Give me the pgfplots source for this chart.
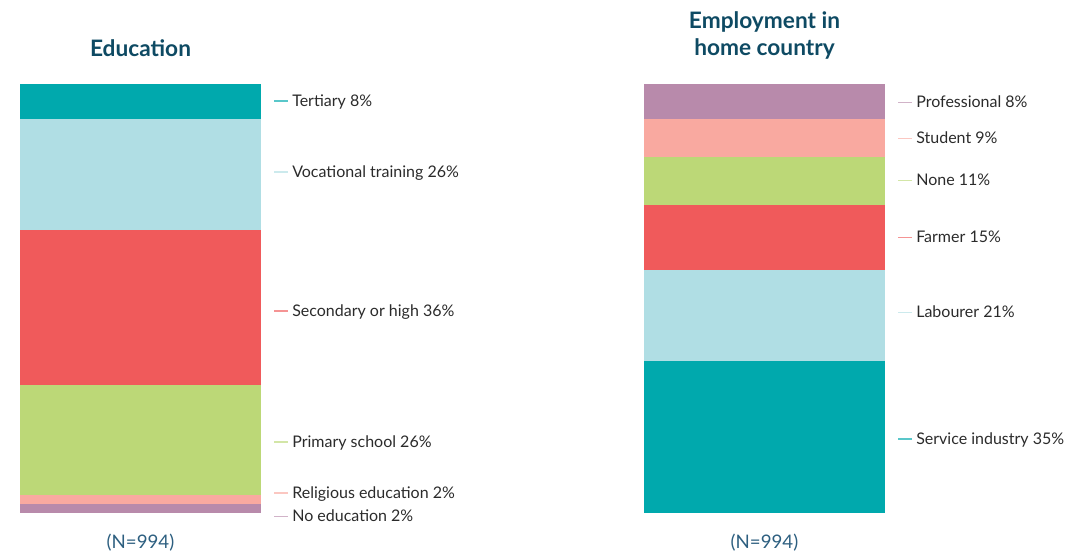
\documentclass[border=0pt]{standalone}
\usepackage{pgfplots}
\pgfplotsset{compat=1.18}
\usepackage{fontspec}
\setmainfont{Lato}
\definecolor{cteal}{HTML}{00A9AD}
\definecolor{clblue}{HTML}{B0DEE4}
\definecolor{cred}{HTML}{F05A5B}
\definecolor{cgreen}{HTML}{BCD877}
\definecolor{csalmon}{HTML}{F9A9A0}
\definecolor{cpurple}{HTML}{B88AAB}
\definecolor{textgray}{HTML}{2B2B2B}
\definecolor{titleblue}{HTML}{0E4A63}
\definecolor{nblue}{HTML}{2D5F80}
\newcommand{\lbl}[3]{\node[anchor=west,inner sep=0pt,font=\fontsize{12}{14}\selectfont,text=textgray] at (axis cs:0.554,#1) {\textcolor{#2!65}{\rule[0.55ex]{10.5pt}{1pt}}\hspace{3pt}#3};}
\pgfplotsset{barax/.style={
  scale only axis, width=180.75pt, height=321.75pt,
  anchor=south west, hide axis, clip=false,
  ybar stacked, bar width=1,
  xmin=-0.5, xmax=0.5, ymin=0, ymax=100,
}}
\begin{document}
\begin{tikzpicture}
\useasboundingbox (0,0) rectangle (814.5pt,415.5pt);
% Education
\begin{axis}[barax, at={(15pt,30.75pt)}]
\addplot[fill=cpurple, draw=none] coordinates {(0,2.1)};
\addplot[fill=csalmon, draw=none] coordinates {(0,2.1)};
\addplot[fill=cgreen, draw=none] coordinates {(0,25.6)};
\addplot[fill=cred, draw=none] coordinates {(0,36.1)};
\addplot[fill=clblue, draw=none] coordinates {(0,25.9)};
\addplot[fill=cteal, draw=none] coordinates {(0,8.2)};
\lbl{95.9}{cteal}{Tertiary 8\%}
\lbl{79.3}{clblue}{Vocational training 26\%}
\lbl{46.9}{cred}{Secondary or high 36\%}
\lbl{16.4}{cgreen}{Primary school 26\%}
\lbl{4.5}{csalmon}{Religious education 2\%}
\lbl{-0.6}{cpurple}{No education 2\%}
\node[font=\bfseries\fontsize{17}{20}\selectfont,text=titleblue,align=center] at (axis cs:0,108.4) {Education};
\node[font=\fontsize{14}{16}\selectfont,text=nblue] at (axis cs:0,-7) {(N=994)};
\end{axis}
% Employment
\begin{axis}[barax, at={(483pt,30.75pt)}]
\addplot[fill=cteal, draw=none] coordinates {(0,35.4)};
\addplot[fill=clblue, draw=none] coordinates {(0,21.2)};
\addplot[fill=cred, draw=none] coordinates {(0,15.2)};
\addplot[fill=cgreen, draw=none] coordinates {(0,11.2)};
\addplot[fill=csalmon, draw=none] coordinates {(0,8.9)};
\addplot[fill=cpurple, draw=none] coordinates {(0,8.1)};
\lbl{95.9}{cpurple}{Professional 8\%}
\lbl{87.5}{csalmon}{Student 9\%}
\lbl{77.7}{cgreen}{None 11\%}
\lbl{64.4}{cred}{Farmer 15\%}
\lbl{46.9}{clblue}{Labourer 21\%}
\lbl{17.1}{cteal}{Service industry 35\%}
\node[font=\bfseries\fontsize{17}{20.25}\selectfont,text=titleblue,align=center] at (axis cs:0,111.4) {Employment in\\home country};
\node[font=\fontsize{14}{16}\selectfont,text=nblue] at (axis cs:0,-7) {(N=994)};
\end{axis}
\end{tikzpicture}
\end{document}
